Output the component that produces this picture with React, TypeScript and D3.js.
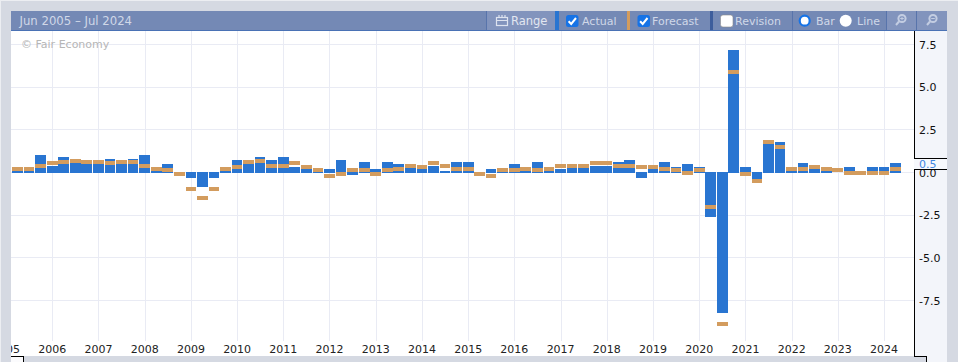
import React from "react";
import * as d3 from "d3";

const actual = [0.06,0.1,1.05,0.4,0.92,0.6,0.47,0.5,0.82,0.5,0.8,1.05,0.1,0.47,0,-0.3,-0.85,-0.3,0.1,0.76,
  0.47,0.92,0.76,0.92,0.35,0.25,0.05,0.18,0.76,-0.12,0.64,0.2,0.64,0.47,0.3,0.2,0.4,0.06,0.64,0.64,
  -0.2,0.2,0.1,0.47,0.1,0.64,0.06,0.18,0.3,0.3,0.4,0.4,0.64,0.76,-0.3,0.2,0.64,0.35,0.47,0.35,
  -2.6,-8.25,7.2,0.35,-0.42,1.72,1.76,0.1,0.53,0.2,0.1,0,0.35,0,0.35,0.35,0.53];
const forecast = [0.23,0.23,0.4,0.53,0.64,0.7,0.64,0.64,0.53,0.64,0.64,0.4,0.23,0.12,-0.06,-0.94,-1.5,-0.94,0.23,0.35,
  0.64,0.7,0.4,0.4,0.53,0.35,0.12,-0.18,-0.06,0.12,0.12,-0.06,0.12,0.23,0.4,0.35,0.53,0.4,0.23,0.23,
  -0.06,-0.18,0.12,0.12,0.23,0.12,0.23,0.4,0.4,0.4,0.53,0.53,0.4,0.4,0.35,0.35,0.23,0.12,0,0.12,
  -2.05,-8.87,5.9,-0.06,-0.47,1.8,1.5,0.23,0.23,0.35,0.23,0.12,0,0,0,0,0.23];
const yTicks = [7.5,5,2.5,0,-2.5,-5,-7.5];
const yLabels = ["7.5","5.0","2.5","0.0","-2.5","-5.0","-7.5"];
const title = "Jun 2005 – Jul 2024";
const latest = "0.5";

const quarters = d3.timeMonth.range(new Date(2005,3,1), new Date(2024,6,1), 3);
const years = d3.timeYear.range(new Date(2005,0,1), new Date(2025,0,1));

const FONT = "'DejaVu Sans', Verdana, sans-serif";
const GRAY = "#d5d9e2", HEAD = "#7489b5", BTN = "#8294bd", BLUE = "#2975d1", TAN = "#d39c5e", GRID = "#e9ebf4", PANEL = "#f3f5fa";

function Check({x,on}:{x:number,on:boolean}) {
  return <g transform={`translate(${x},15)`}>
    <rect x={0} y={0} width={12.5} height={12} rx={2.5} fill={on?"#1673e6":"#fff"} stroke={on?"none":"#8a8a8a"} strokeWidth={0.6}/>
    {on && <path d="M2.6 6.2 L5.2 8.9 L10 3" fill="none" stroke="#fff" strokeWidth={2}/>}
  </g>;
}
function Lens({x,plus}:{x:number,plus:boolean}) {
  return <g transform={`translate(${x},20)`} stroke="#c3cde2" fill="none" strokeWidth={2}>
    <circle cx={1} cy={-1.5} r={3.6}/>
    <line x1={-2} y1={1.5} x2={-5} y2={5}/>
    {plus ? <path d="M-0.8 -1.5 H2.8 M1 -3.3 V0.3" strokeWidth={1}/> : <path d="M-0.8 -1.5 H2.8" strokeWidth={1}/>}
  </g>;
}

export default function App() {
  const x = d3.scaleTime().domain([new Date(2006,0,1), new Date(2024,0,1)]).range([52.3, 884]);
  const y = d3.scaleLinear().domain([0,7.5]).range([172.5,44.5]);
  const T = (p:any) => <text fontFamily={FONT} fontSize={11} fill="#d0d8e8" {...p}/>;
  return (
    <svg width={958} height={362} style={{position:"fixed",left:0,top:0,display:"block"}} shapeRendering="crispEdges">
      <defs><clipPath id="plot"><rect x={11} y={31} width={903} height={331}/></clipPath></defs>
      <rect width={958} height={362} fill={GRAY}/>
      <rect width={958} height={1} fill="#eceef2"/>
      <rect width={1} height={362} fill="#eceef2"/>
      <rect x={11} y={31} width={903} height={325} fill="#fff"/>
      <rect x={11} y={356} width={13} height={6} fill="#fbfbfd"/>
      <rect x={914} y={31} width={33} height={331} fill={PANEL}/>
      <rect x={914} y={357} width={12} height={5} fill={GRAY}/>

      <g>
        {years.slice(1).map(d => <line key={+d} x1={Math.round(x(d))+0.5} x2={Math.round(x(d))+0.5} y1={31} y2={341} stroke={GRID}/>)}
        {yTicks.map(t => <line key={t} x1={11} x2={914} y1={Math.floor(y(t))+0.5} y2={Math.floor(y(t))+0.5} stroke={GRID}/>)}
      </g>
      <text x={21} y={48} fontFamily={FONT} fontSize={11} fill="#b6b6b6" shapeRendering="auto">© Fair Economy</text>

      <g>
        {quarters.map((d,i) => {
          const c = x(d), a = actual[i], l = Math.round(c-5.35), r = Math.round(c+5.35);
          const t = a>=0 ? Math.round(y(a)) : 172, b = a>=0 ? 173 : Math.round(y(a));
          return <rect key={i} x={l} y={t} width={r-l} height={Math.max(0,b-t)} fill={BLUE}/>;
        })}
        {quarters.map((d,i) => {
          const c = x(d), l = Math.round(c-5.35), r = Math.round(c+5.35);
          return <rect key={i} x={l} y={Math.round(y(forecast[i]))-2} width={r-l} height={4} fill={TAN}/>;
        })}
      </g>

      <g clipPath="url(#plot)">
        {years.map(d => <text key={+d} x={x(d)} y={353} textAnchor="middle" fontFamily={FONT} fontSize={11} fill="#222" shapeRendering="auto">{d3.timeFormat("%Y")(d)}</text>)}
      </g>

      <line x1={914.5} x2={914.5} y1={31} y2={357} stroke="#000"/>
      <path d="M11 356.5 H23.5 V362 M914.5 356.5 H926.5 V362" fill="none" stroke="#000"/>
      {yTicks.map((t,i) => <text key={t} x={919} y={y(t)+4} fontFamily={FONT} fontSize={11} fill="#111" shapeRendering="auto">{yLabels[i]}</text>)}
      <rect x={914} y={158} width={33} height={11} fill={PANEL}/>
      <rect x={914} y={158} width={33} height={11} fill="#fbfcfe" opacity={0.4}/>
      <text x={919} y={168} fontFamily={FONT} fontSize={11} fill="#3f86e0" shapeRendering="auto">{latest}</text>
      <path d="M914 158.5 H947 M914 169.5 H947" stroke="#000"/>

      <rect x={11} y={11} width={936} height={19} fill={HEAD}/>
      <rect x={11} y={30} width={936} height={1} fill="#4a72b5"/>
      <rect x={487} y={11} width={68} height={19} fill={BTN}/>
      <rect x={887} y={11} width={60} height={19} fill={BTN}/>
      <rect x={555} y={11} width={4} height={19} fill={BLUE}/>
      <rect x={627} y={11} width={3} height={19} fill={TAN}/>
      <rect x={710} y={11} width={3} height={19} fill="#3d5d9c"/>
      {[486,792,886,916].map(s => <rect key={s} x={s} y={11} width={1} height={19} fill="#5874ab"/>)}
      <g shapeRendering="auto">
        <T x={19.5} y={25} fontSize={11.7}>{title}</T>
        <g stroke="#dde3ef" fill="none" strokeWidth={1.2}>
          <rect x={496.5} y={17.5} width={11} height={8}/>
          <path d="M496.5 20.5 H507.5 M499 15 V18 M502 15 V18 M505 15 V18"/>
        </g>
        <T x={511} y={25} fill="#e2e7f1" fontSize={11.5}>Range</T>
        <Check x={566} on={true}/>
        <T x={582} y={25}>Actual</T>
        <Check x={637.5} on={true}/>
        <T x={652} y={25}>Forecast</T>
        <Check x={720.5} on={false}/>
        <T x={735} y={25}>Revision</T>
        <circle cx={804.7} cy={20.7} r={5} fill="#fff" stroke="#1673e6" strokeWidth={2.2}/>
        <T x={816} y={25}>Bar</T>
        <circle cx={845.7} cy={20.7} r={6} fill="#fff"/>
        <T x={857} y={25}>Line</T>
        <Lens x={901} plus={true}/>
        <Lens x={932} plus={false}/>
      </g>
    </svg>
  );
}
